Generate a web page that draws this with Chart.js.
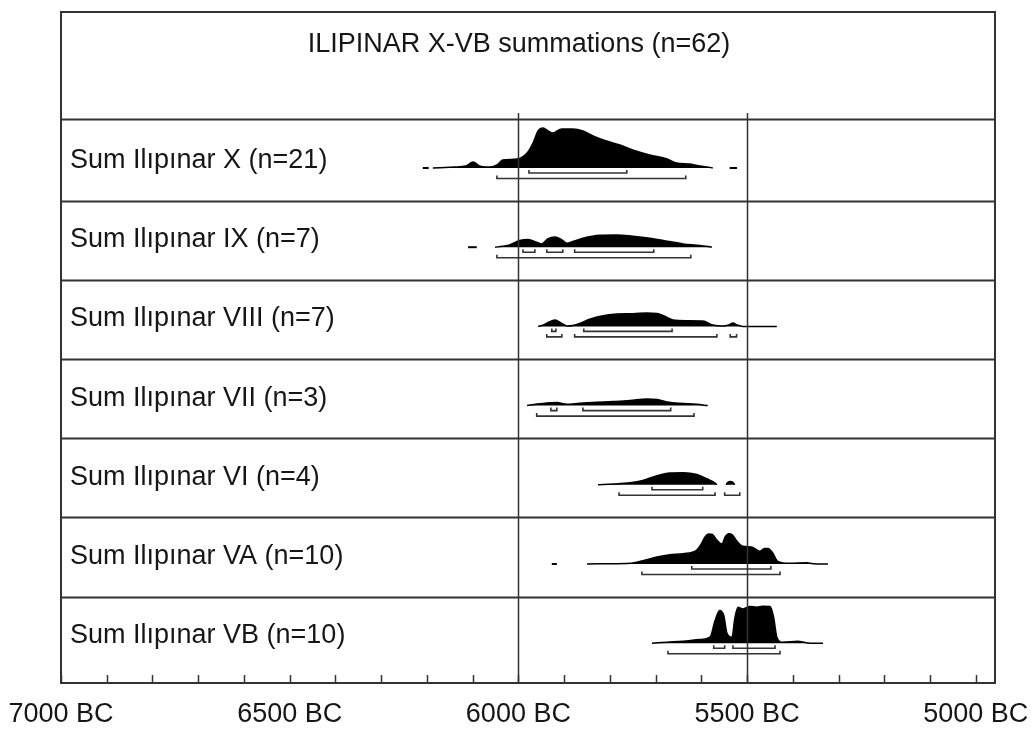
<!DOCTYPE html>
<html>
<head>
<meta charset="utf-8">
<script src="https://cdn.jsdelivr.net/npm/chart.js@4.4.1/dist/chart.umd.min.js"></script>
<style>
  html, body { margin: 0; background: #fff; }
  #wrap { width: 1035px; height: 729px; }
</style>
</head>
<body>
<div id="wrap"><canvas id="sumChart"></canvas></div>
<script>
const title = "ILIPINAR X-VB summations (n=62)";

const rowLabels = [
  "Sum Ilıpınar X (n=21)",
  "Sum Ilıpınar IX (n=7)",
  "Sum Ilıpınar VIII (n=7)",
  "Sum Ilıpınar VII (n=3)",
  "Sum Ilıpınar VI (n=4)",
  "Sum Ilıpınar VA (n=10)",
  "Sum Ilıpınar VB (n=10)",
];

// summed probability, [year BC, relative height]; null = gap
const densityX = [
  [6187, 0], [6140, 1], [6115, 2], [6099, 6], [6085, 2], [6070, 1], [6062, 1],
  [6047, 3], [6034, 8], [6003, 9], [5981, 15], [5968, 25], [5957, 37], [5946, 40],
  [5935, 37], [5925, 35], [5905, 39], [5881, 39], [5859, 37], [5837, 32],
  [5807, 27], [5778, 23], [5750, 18], [5713, 13], [5675, 9], [5654, 5],
  [5625, 4], [5603, 2], [5575, 0],
];
const densityIX = [
  [6051, 0], [6035, 1], [6019, 2.3], [5997, 6.7], [5979, 7.7], [5960, 5],
  [5949, 3.3], [5936, 8.3], [5920, 10.3], [5905, 7.3], [5894, 4], [5881, 5.7],
  [5859, 9], [5822, 12], [5785, 12.3], [5750, 11], [5713, 9], [5675, 6],
  [5640, 3.3], [5603, 1.7], [5577, 0],
];
const densityVIII = [
  [5957, 0], [5945, 1.5], [5935, 4], [5920, 6.3], [5905, 3], [5894, 0.5],
  [5881, 1], [5866, 3], [5844, 7.3], [5815, 10.7], [5785, 12.3], [5756, 12.7],
  [5719, 13.3], [5697, 13], [5675, 9], [5662, 6.3], [5632, 5.7], [5597, 5.3],
  [5575, 1.3], [5553, 0.3], [5540, 1.5], [5531, 3.3], [5522, 1.5], [5510, 0],
  [5435, 0],
];
const densityVII = [
  [5981, 0], [5960, 1.5], [5938, 2.7], [5916, 3], [5894, 1.3], [5866, 2.3],
  [5828, 3.3], [5793, 4], [5756, 5], [5719, 6.7], [5697, 6], [5675, 3.7],
  [5647, 2.3], [5610, 1.3], [5586, 0],
];
const densityVI = [
  [5826, 0], [5793, 0.7], [5756, 2], [5728, 4.3], [5697, 9], [5669, 11.7],
  [5640, 12], [5610, 10.3], [5588, 6], [5570, 1.7], [5566, 0], null,
  [5546, 0], [5542, 2.5], [5537, 3.3], [5531, 2.5], [5527, 0],
];
const densityVA = [
  [5850, 0], [5793, 0.3], [5756, 0.7], [5728, 3.3], [5697, 7], [5669, 9.3],
  [5640, 10.3], [5610, 14], [5599, 21], [5592, 27], [5584, 30], [5576, 29.5],
  [5566, 24], [5555, 20], [5548, 27], [5540, 30.3], [5532, 29], [5522, 22.7],
  [5509, 17.7], [5490, 17], [5472, 12.7], [5462, 15.5], [5454, 15.5], [5444, 11],
  [5433, 2.7], [5407, 0.7], [5369, 1.3], [5356, 0.3], [5323, 0],
];
const densityVB = [
  [5708, 0], [5675, 1], [5640, 2], [5603, 3.7], [5581, 6], [5570, 22.7],
  [5560, 32.7], [5551, 27.7], [5544, 10], [5533, 6], [5527, 24.3], [5520, 36],
  [5509, 34.3], [5494, 36.7], [5479, 36], [5466, 37], [5450, 36.7],
  [5442, 26], [5435, 6], [5422, 1], [5389, 2], [5369, 0.3], [5334, 0],
];

// 1 sigma and 2 sigma ranges, [from BC, to BC]
const sigma1 = [
  [[5977, 5763]],
  [[5990, 5964], [5938, 5903], [5877, 5704]],
  [[5927, 5918], [5857, 5664]],
  [[5929, 5916], [5859, 5667]],
  [[5708, 5597]],
  [[5621, 5448]],
  [[5573, 5549], [5531, 5439]],
];
const sigma2 = [
  [[6047, 5634]],
  [[6047, 5623]],
  [[5938, 5905], [5877, 5566], [5537, 5523]],
  [[5960, 5616]],
  [[5780, 5570], [5549, 5516]],
  [[5730, 5428]],
  [[5673, 5428]],
];
// isolated single dates
const dashes = [
  [[6209, 6196], [5538, 5522]],
  [[6110, 6091]],
  [],
  [],
  [],
  [[5927, 5916]],
  [],
];

const densities = [densityX, densityIX, densityVIII, densityVII, densityVI, densityVA, densityVB];
const axisYears = [];
for (let y = 5000; y <= 7000; y += 100) axisYears.push(y);
const labelYears = [5000, 5500, 6000, 6500, 7000];
const guideYears = [6000, 5500];

document.addEventListener("DOMContentLoaded", () => {
  const ink = "#161616";
  const lineInk = "#333";
  const family = "'Liberation Sans', Arial, sans-serif";
  const font = "27px " + family;

  // y runs in pixels from top of frame
  const rowBase = (i) => 156 + 79.2 * i;

  const datasets = [];
  densities.forEach((dens, i) => {
    const base = rowBase(i);
    datasets.push({
      data: dens.map((p) => (p ? { x: p[0], y: base - p[1] } : { x: NaN, y: null })),
      borderColor: "#000",
      backgroundColor: "#000",
      borderWidth: 1.5,
      pointRadius: 0,
      cubicInterpolationMode: "monotone",
      fill: { value: base },
    });

    const brackets = [];
    const addBracket = (r, level) => {
      brackets.push({ x: r[0], y: level - 3 }, { x: r[0], y: level },
        { x: r[1], y: level }, { x: r[1], y: level - 3 }, { x: r[1], y: null });
    };
    sigma1[i].forEach((r) => addBracket(r, base + 5));
    sigma2[i].forEach((r) => addBracket(r, base + 10.5));
    datasets.push({
      data: brackets,
      borderColor: lineInk,
      borderWidth: 1.6,
      pointRadius: 0,
      fill: false,
    });

    const dash = [];
    dashes[i].forEach((d) => {
      dash.push({ x: d[0], y: base }, { x: d[1], y: base }, { x: d[1], y: null });
    });
    if (dash.length) {
      datasets.push({
        data: dash,
        borderColor: "#000",
        borderWidth: 2,
        pointRadius: 0,
        fill: false,
      });
    }
  });

  const framePlugin = {
    id: "frame",
    beforeDatasetsDraw(chart) {
      const { ctx, chartArea: a, scales } = chart;
      const xs = scales.x;
      const ys = scales.y;
      ctx.save();
      ctx.strokeStyle = lineInk;

      // row separators
      ctx.lineWidth = 1.8;
      const seps = [107];
      for (let i = 0; i < rowLabels.length - 1; i++) seps.push(rowBase(i) + 32.5);
      seps.forEach((v) => {
        const py = Math.round(ys.getPixelForValue(v)) + 0.5;
        ctx.beginPath();
        ctx.moveTo(a.left, py);
        ctx.lineTo(a.right, py);
        ctx.stroke();
      });

      // inward tick marks
      ctx.lineWidth = 1.5;
      axisYears.forEach((yr) => {
        const px = Math.round(xs.getPixelForValue(yr)) + 0.5;
        ctx.beginPath();
        ctx.moveTo(px, a.bottom);
        ctx.lineTo(px, a.bottom - 8);
        ctx.stroke();
      });

      // text
      ctx.fillStyle = ink;
      ctx.font = font;
      ctx.textBaseline = "alphabetic";
      ctx.textAlign = "center";
      ctx.fillText(title, 519, ys.getPixelForValue(40));
      ctx.textAlign = "left";
      rowLabels.forEach((lab, i) => {
        ctx.fillText(lab, a.left + 9, ys.getPixelForValue(rowBase(i)));
      });
      ctx.restore();
    },
    afterDatasetsDraw(chart) {
      const { ctx, chartArea: a, scales } = chart;
      ctx.save();
      ctx.strokeStyle = lineInk;
      ctx.lineWidth = 1.5;
      guideYears.forEach((yr) => {
        const px = Math.round(scales.x.getPixelForValue(yr)) + 0.5;
        ctx.beginPath();
        ctx.moveTo(px, scales.y.getPixelForValue(101));
        ctx.lineTo(px, a.bottom);
        ctx.stroke();
      });
      ctx.lineWidth = 2;
      ctx.strokeRect(a.left, a.top, a.right - a.left, a.bottom - a.top);
      ctx.restore();
    },
  };

  new Chart(document.querySelector("#sumChart"), {
    type: "line",
    data: { datasets: datasets },
    options: {
      responsive: true,
      maintainAspectRatio: false,
      animation: false,
      layout: { padding: { left: 61, top: 12, right: 40, bottom: 0 } },
      plugins: { legend: { display: false }, tooltip: { enabled: false } },
      scales: {
        x: {
          type: "linear",
          reverse: true,
          min: 4958,
          max: 7000,
          afterBuildTicks: (scale) => {
            scale.ticks = axisYears.map((v) => ({ value: v }));
          },
          afterFit: (scale) => {
            scale.height = 46;
          },
          grid: { display: false, drawTicks: false },
          border: { display: false },
          ticks: {
            autoSkip: false,
            maxRotation: 0,
            padding: 15,
            color: ink,
            font: { family: family, size: 27 },
            callback: (v) => (labelYears.includes(v) ? v + " BC" : ""),
          },
        },
        y: {
          type: "linear",
          display: false,
          reverse: true,
          min: 0,
          max: 671,
        },
      },
    },
    plugins: [framePlugin],
  });
});
</script>
</body>
</html>
